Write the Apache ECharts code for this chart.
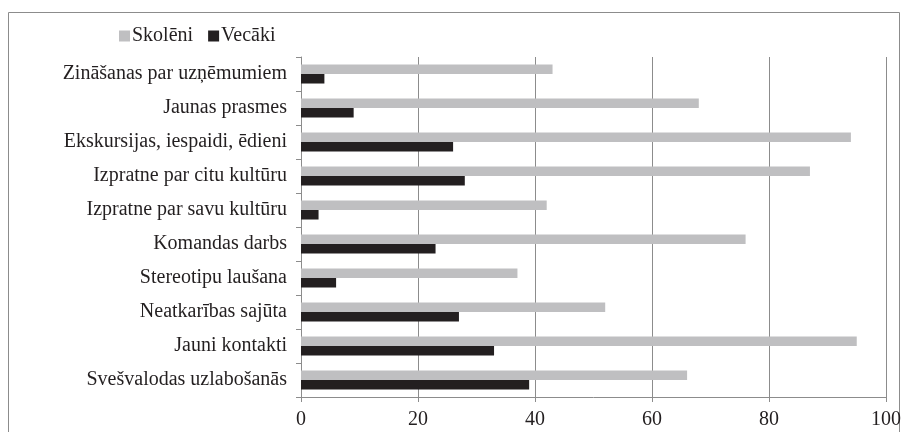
<!DOCTYPE html>
<html>
<head>
<meta charset="utf-8">
<script src="https://cdn.jsdelivr.net/npm/echarts@6/dist/echarts.min.js"></script>
<style>
  html, body { margin: 0; padding: 0; background: #fff; }
  #chart { width: 908px; height: 432px; }
</style>
</head>
<body>
<div id="chart"></div>
<script>
var categories = ['Zināšanas par uzņēmumiem', 'Jaunas prasmes', 'Ekskursijas, iespaidi, ēdieni',
    'Izpratne par citu kultūru', 'Izpratne par savu kultūru', 'Komandas darbs',
    'Stereotipu laušana', 'Neatkarības sajūta', 'Jauni kontakti', 'Svešvalodas uzlabošanās'];
var skoleni = [43, 68, 94, 87, 42, 76, 37, 52, 95, 66];
var vecaki = [4, 9, 26, 28, 3, 23, 6, 27, 33, 39];

var myChart = echarts.init(document.getElementById('chart'));

var font = "'Liberation Serif', 'DejaVu Serif', serif";

option = {
    animation: false,
    color: ['#bfbfc1', '#231f20'],
    textStyle: { fontFamily: font },
    graphic: [{
        type: 'rect',
        shape: { x: 8.5, y: 12.5, width: 891, height: 430 },
        style: { fill: 'none', stroke: '#8c8c8c', lineWidth: 1 },
        silent: true
    }],
    legend: {
        left: 114,
        top: 21,
        itemWidth: 11,
        itemHeight: 11,
        itemGap: 15,
        icon: 'rect',
        textStyle: { fontFamily: font, fontSize: 20, color: '#231f20', padding: [0, 0, 0, -3] },
        data: ['Skolēni', 'Vecāki']
    },
    grid: { left: 301, right: 22, top: 57, bottom: 35, containLabel: false },
    xAxis: {
        type: 'value',
        min: 0,
        max: 100,
        interval: 20,
        axisLine: { show: true, lineStyle: { color: '#8c8c8c' } },
        axisTick: { show: true, length: 5, lineStyle: { color: '#8c8c8c' } },
        axisLabel: { fontFamily: font, fontSize: 20, color: '#231f20', margin: 13 },
        splitLine: { show: true, lineStyle: { color: '#8c8c8c' } }
    },
    yAxis: {
        type: 'category',
        inverse: true,
        data: categories,
        axisLine: { lineStyle: { color: '#8c8c8c' } },
        axisTick: { show: true, length: 5, lineStyle: { color: '#8c8c8c' } },
        axisLabel: { fontFamily: font, fontSize: 20, color: '#231f20', margin: 14 }
    },
    series: [
        {
            name: 'Skolēni',
            type: 'bar',
            data: skoleni,
            barGap: '0%',
            barCategoryGap: '44%'
        },
        {
            name: 'Vecāki',
            type: 'bar',
            data: vecaki,
            barGap: '0%',
            barCategoryGap: '44%'
        }
    ]
};
myChart.setOption(option);
</script>
</body>
</html>
